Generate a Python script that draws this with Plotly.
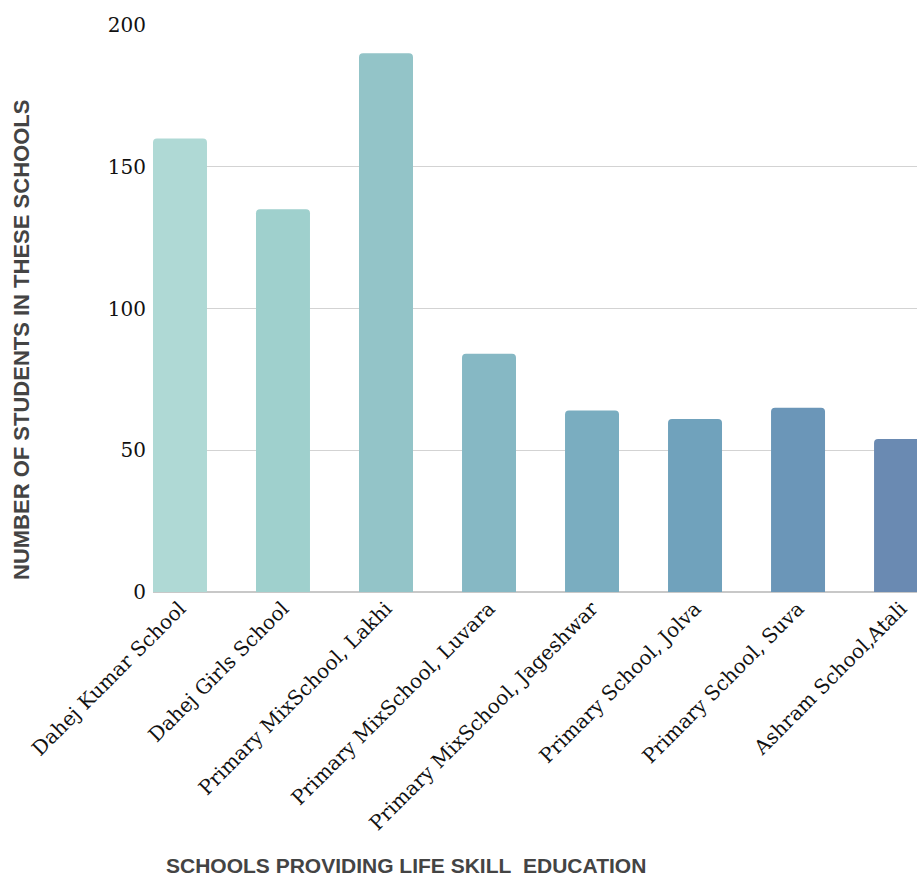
import plotly.graph_objects as go

schools = [
    "Dahej Kumar School",
    "Dahej Girls School",
    "Primary MixSchool, Lakhi",
    "Primary MixSchool, Luvara",
    "Primary MixSchool, Jageshwar",
    "Primary School, Jolva",
    "Primary School, Suva",
    "Ashram School,Atali",
]
students = [160, 135, 190, 84, 64, 61, 65, 54]
bar_colors = ["#afd9d5", "#9fd0cd", "#93c4c8", "#86b8c4",
              "#7aadc0", "#70a2bc", "#6b96b8", "#6a8ab2"]
y_ticks = [0, 50, 100, 150, 200]

fig = go.Figure(go.Bar(
    x=list(range(len(schools))),
    y=students,
    marker=dict(color=bar_colors, line=dict(width=0), cornerradius=4),
    width=0.524,
))

W, H = 917, 877
L, R, T, B = 153, 0, 25, 285

fig.update_layout(
    width=W, height=H,
    margin=dict(l=L, r=R, t=T, b=B, pad=0),
    plot_bgcolor="white", paper_bgcolor="white",
    showlegend=False,
    xaxis=dict(
        tickmode="array",
        tickvals=list(range(len(schools))),
        ticktext=schools,
        tickangle=-45,
        range=[-0.262, 7.155],
        showgrid=False, zeroline=False, showline=False,
        ticks="",
        tickfont=dict(family="DejaVu Serif", size=20, color="#111111"),
    ),
    yaxis=dict(
        range=[0, 200],
        tickvals=y_ticks,
        showgrid=True, gridcolor="#d3d3d3", gridwidth=1,
        zeroline=True, zerolinecolor="#c8c8c8", zerolinewidth=1.5,
        showline=False, ticks="", ticklabelstandoff=6,
        tickfont=dict(family="DejaVu Serif", size=20, color="#111111"),
    ),
    annotations=[
        dict(text="<b>SCHOOLS PROVIDING LIFE SKILL\u00a0 EDUCATION</b>",
             xref="paper", yref="paper",
             x=(406 - L) / (W - L - R), y=-(865 - (H - B)) / (H - T - B),
             xanchor="center", yanchor="middle", showarrow=False,
             font=dict(family="Liberation Sans", size=21, color="#444444")),
        dict(text="<b>NUMBER OF STUDENTS IN THESE SCHOOLS</b>",
             xref="paper", yref="paper",
             x=-(L - 21) / (W - L - R), y=((H - B) - 340) / (H - T - B),
             xanchor="center", yanchor="middle", showarrow=False, textangle=-90,
             font=dict(family="Liberation Sans", size=22, color="#444444")),
    ],
)

fig.write_html("out.html")
